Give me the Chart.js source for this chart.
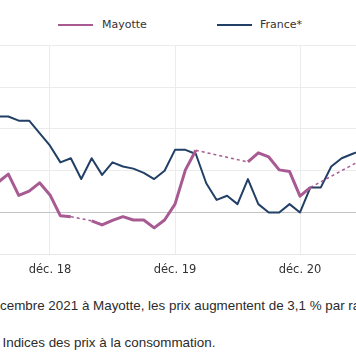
<!DOCTYPE html>
<html lang="fr">
<head>
<meta charset="utf-8">
<script src="https://cdn.jsdelivr.net/npm/chart.js@4.4.1/dist/chart.umd.min.js"></script>
<style>
  html, body { margin: 0; padding: 0; background: #fff; }
  body { width: 356px; height: 364px; overflow: hidden; position: relative; }
  #wrap { position: absolute; left: 0; top: 0; width: 356px; height: 286px; }
  .legend { position: absolute; top: 18px; height: 14px; font: 11px "DejaVu Sans", sans-serif; color: #333; white-space: nowrap; }
  .legend .sw { position: absolute; top: 6px; width: 35px; height: 2px; }
  .legend .tx { position: absolute; top: 0; line-height: 14px; }
  .cap { position: absolute; left: 0; white-space: nowrap; font: 13.4px "Liberation Sans", Arial, sans-serif; color: #2b2b2b; line-height: 16px; }
</style>
</head>
<body>
<div class="legend" style="left:58px"><span class="sw" id="sw0"></span><span class="tx" id="tx0" style="left:44px"></span></div>
<div class="legend" style="left:217px"><span class="sw" id="sw1"></span><span class="tx" id="tx1" style="left:43px"></span></div>
<div id="wrap"><canvas id="c"></canvas></div>
<div class="cap" id="cap1" style="top:298px"><span class="pre">Lecture : en dé</span>cembre 2021 à Mayotte, les prix augmentent de 3,1 % par rapport à décembre 2020.</div>
<div class="cap" id="cap2" style="top:335px"><span class="pre">Source : Insee, </span>Indices des prix à la consommation.</div>
<script>
// ---- data (year-over-year change, %) ----
const months = ["2018-07","2018-08","2018-09","2018-10","2018-11","2018-12",
  "2019-01","2019-02","2019-03","2019-04","2019-05","2019-06","2019-07","2019-08","2019-09","2019-10","2019-11","2019-12",
  "2020-01","2020-02","2020-03","2020-04","2020-05","2020-06","2020-07","2020-08","2020-09","2020-10","2020-11","2020-12",
  "2021-01","2021-02","2021-03","2021-04","2021-05","2021-06"];
const seriesNames = ["Mayotte", "France*"];
const mayotte = [0.72, 0.92, 0.41, 0.51, 0.71, 0.42,
  -0.08, -0.10, null, -0.20, -0.30, -0.19, -0.10, -0.18, -0.18, -0.37, -0.18, 0.20,
  1.02, 1.49, null, null, null, null, 1.21, 1.43, 1.33, 1.02, 0.98, 0.39,
  0.60, null, null, null, null, 1.27];
const france = [2.3, 2.3, 2.2, 2.2, 1.9, 1.6,
  1.2, 1.3, 0.8, 1.3, 0.9, 1.2, 1.1, 1.05, 0.95, 0.8, 1.0, 1.5,
  1.5, 1.4, 0.7, 0.3, 0.4, 0.2, 0.8, 0.2, 0.0, 0.0, 0.2, 0.0,
  0.6, 0.6, 1.1, 1.3, 1.4, 1.5];
const tickMonths = ["2018-12", "2019-12", "2020-12"];
const tickLabels = ["déc. 18", "déc. 19", "déc. 20"];
const yTicks = [-1, 0, 1, 2, 3, 4];
const viewFrom = -4.8, viewTo = 29.376; // visible window in months relative to déc. 18

const colors = ["#a85a93", "#223f66"];

function mIdx(s) { const [y, m] = s.split("-").map(Number); return (y - 2018) * 12 + (m - 12); }
const toPts = arr => months.map((m, i) => ({ x: mIdx(m), y: arr[i] }));

// legend (HTML)
seriesNames.forEach((n, i) => {
  document.getElementById("sw" + i).style.background = colors[i];
  document.getElementById("tx" + i).textContent = n;
});

const gap = (ctx, v) => (ctx.p0.skip || ctx.p1.skip) ? v : undefined;

new Chart(document.getElementById("c"), {
  type: "line",
  data: {
    datasets: [
      { label: seriesNames[0], data: toPts(mayotte), borderColor: colors[0], borderWidth: 3,
        pointRadius: 0, spanGaps: true, tension: 0, borderJoinStyle: "round",
        segment: { borderDash: ctx => gap(ctx, [3, 3]), borderWidth: ctx => gap(ctx, 1.5) } },
      { label: seriesNames[1], data: toPts(france), borderColor: colors[1], borderWidth: 2,
        pointRadius: 0, tension: 0, borderJoinStyle: "round" }
    ]
  },
  options: {
    responsive: true, maintainAspectRatio: false, animation: false,
    layout: { padding: { top: 45.5, left: 0, right: 0, bottom: 0 } },
    plugins: { legend: { display: false }, tooltip: { enabled: false } },
    scales: {
      x: {
        type: "linear", min: viewFrom, max: viewTo,
        afterBuildTicks: s => { s.ticks = tickMonths.map(m => ({ value: mIdx(m) })); },
        ticks: { padding: 9, color: "#333", font: { family: "DejaVu Sans", size: 11.5 },
          callback: v => tickLabels[tickMonths.findIndex(m => mIdx(m) === v)] },
        grid: { color: "#ececec", drawTicks: false },
        border: { display: true, color: "#e6e6e6" }
      },
      y: {
        min: yTicks[0], max: yTicks[yTicks.length - 1],
        afterBuildTicks: s => { s.ticks = yTicks.map(v => ({ value: v })); },
        ticks: { display: false },
        grid: { drawTicks: false, color: c => c.tick && c.tick.value === 0 ? "#c4c4c4" : "#ececec" },
        border: { display: false }
      }
    }
  }
});

// caption lines: the visible window starts inside the text block
function place(id, target) {
  const el = document.getElementById(id);
  const w = el.querySelector(".pre").getBoundingClientRect().width;
  el.style.left = (target - w) + "px";
}
place("cap1", 0);
place("cap2", 2.5);
</script>
</body>
</html>
